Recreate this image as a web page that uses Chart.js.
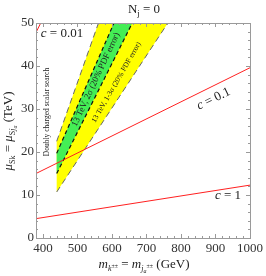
<!DOCTYPE html>
<html lang="en">
<head>
  <meta charset="UTF-8" />
  <title>Nj = 0 exclusion plot</title>
  <script src="https://cdn.jsdelivr.net/npm/chart.js"></script>
  <style>
    html, body {
      margin: 0;
      padding: 0;
      background: #fff;
    }
  </style>
</head>
<body>
  <canvas id="chart" width="266" height="276"></canvas>

  <script>
    const xTicks = [400, 500, 600, 700, 800, 900, 1000];
    const yTicks = [0, 10, 20, 30, 40, 50];

    // doubly charged scalar search: masses below 440 GeV excluded
    const searchBand = [{x: 380, y: 50}, {x: 440, y: 50}];

    // 13 TeV, 1-3 sigma band edges
    const outerLeft = [{x: 440, y: 22.5}, {x: 561, y: 50}];
    const outerRight = [{x: 440, y: 10.7}, {x: 762, y: 50}];
    // 13 TeV, 2 sigma band edges
    const innerLeft = [{x: 440, y: 19.7}, {x: 606, y: 50}];
    const innerRight = [{x: 440, y: 15.0}, {x: 659, y: 50}];

    // coupling contours
    const cOne = [{x: 380, y: 4.5}, {x: 1000, y: 12.3}];
    const cTenth = [{x: 380, y: 15.0}, {x: 1000, y: 39.6}];
    const cHundredth = [{x: 380, y: 47.8}, {x: 400, y: 51}];

    const SERIF = "'Liberation Serif', 'DejaVu Serif', serif";

    // closed polygon between two edges
    const band = (left, right) => [...left, ...right.slice().reverse(), left[0]];

    const line = (data, color, width, dash, order) => ({
      data, showLine: true, pointRadius: 0, borderColor: color,
      borderWidth: width, borderDash: dash, fill: false, order
    });

    const area = (data, color, order) => ({
      data, showLine: true, pointRadius: 0, borderWidth: 0,
      borderColor: color, backgroundColor: color, fill: 'shape', order
    });

    // draw text made of pieces with sub/superscripts
    function rich(ctx, parts, x, y) {
      let w = 0;
      parts.forEach(p => { ctx.font = p.f; p.w = ctx.measureText(p.t).width; w += p.w; });
      let cx = x - w / 2;
      parts.forEach(p => { ctx.font = p.f; ctx.fillText(p.t, cx, y + (p.dy || 0)); cx += p.w; });
    }

    const frame = {
      id: 'frame',
      afterDatasetsDraw(chart) {
        const {ctx, chartArea: a, scales: {x, y}} = chart;
        ctx.save();
        ctx.strokeStyle = '#9a9a9a';
        ctx.lineWidth = 1;
        ctx.beginPath();
        for (let v = 380; v <= 1000; v += 20) {
          const px = Math.round(x.getPixelForValue(v)) + 0.5;
          const len = v % 100 === 0 ? 4 : 2;
          ctx.moveTo(px, a.bottom); ctx.lineTo(px, a.bottom - len);
          ctx.moveTo(px, a.top); ctx.lineTo(px, a.top + len);
        }
        for (let v = 0; v <= 50; v += 2) {
          const py = Math.round(y.getPixelForValue(v)) + 0.5;
          const len = v % 10 === 0 ? 4 : 2;
          ctx.moveTo(a.left, py); ctx.lineTo(a.left + len, py);
          ctx.moveTo(a.right, py); ctx.lineTo(a.right - len, py);
        }
        ctx.stroke();
        ctx.strokeRect(Math.round(a.left) + 0.5, Math.round(a.top) + 0.5,
          Math.round(a.right - a.left), Math.round(a.bottom - a.top));
        ctx.restore();
      }
    };

    const labels = {
      id: 'labels',
      afterDraw(chart) {
        const {ctx} = chart;
        ctx.save();
        ctx.fillStyle = '#222';
        ctx.textBaseline = 'alphabetic';

        // title
        rich(ctx, [
          {t: 'N', f: `13px ${SERIF}`},
          {t: 'j', f: `9px ${SERIF}`, dy: 3},
          {t: ' = 0', f: `13px ${SERIF}`}
        ], 144, 13);

        // x axis title
        rich(ctx, [
          {t: 'm', f: `italic 13px ${SERIF}`},
          {t: 'k', f: `italic 8px ${SERIF}`, dy: 3},
          {t: '±±', f: `6px ${SERIF}`, dy: 0},
          {t: ' = ', f: `13px ${SERIF}`},
          {t: 'm', f: `italic 13px ${SERIF}`},
          {t: 'j', f: `italic 8px ${SERIF}`, dy: 3},
          {t: 'a', f: `italic 6px ${SERIF}`, dy: 5},
          {t: '±±', f: `6px ${SERIF}`, dy: 0},
          {t: ' (GeV)', f: `13px ${SERIF}`}
        ], 144, 268);

        // y axis title
        ctx.save();
        ctx.translate(12, 131);
        ctx.rotate(-Math.PI / 2);
        rich(ctx, [
          {t: 'μ', f: `italic 13px ${SERIF}`},
          {t: 'Sk', f: `8px ${SERIF}`, dy: 3},
          {t: ' = ', f: `13px ${SERIF}`},
          {t: 'μ', f: `italic 13px ${SERIF}`},
          {t: 'S', f: `8px ${SERIF}`, dy: 3},
          {t: 'j', f: `italic 8px ${SERIF}`, dy: 3},
          {t: 'a', f: `italic 6px ${SERIF}`, dy: 5},
          {t: ' (TeV)', f: `13px ${SERIF}`}
        ], 0, 0);
        ctx.restore();

        // contour labels
        rich(ctx, [
          {t: 'c', f: `italic 13px ${SERIF}`},
          {t: ' = 0.01', f: `13px ${SERIF}`}
        ], 62, 37);

        ctx.save();
        ctx.translate(215, 102);
        ctx.rotate(-26 * Math.PI / 180);
        rich(ctx, [
          {t: 'c', f: `italic 13px ${SERIF}`},
          {t: ' = 0.1', f: `13px ${SERIF}`}
        ], 0, 0);
        ctx.restore();

        rich(ctx, [
          {t: 'c', f: `italic 13px ${SERIF}`},
          {t: ' = 1', f: `13px ${SERIF}`}
        ], 228, 199);

        // band and search labels
        ctx.save();
        ctx.translate(49, 112);
        ctx.rotate(-Math.PI / 2);
        rich(ctx, [{t: 'Doubly charged scalar search', f: `7.5px ${SERIF}`}], 0, 0);
        ctx.restore();

        ctx.save();
        ctx.translate(94, 82);
        ctx.rotate(-65 * Math.PI / 180);
        rich(ctx, [{t: '13 TeV, 2σ (20% PDF error)', f: `9px ${SERIF}`}], 3, 3);
        ctx.restore();

        ctx.save();
        ctx.translate(116, 82);
        ctx.rotate(-60 * Math.PI / 180);
        rich(ctx, [{t: '13 TeV, 1-3σ (20% PDF error)', f: `7.5px ${SERIF}`}], 0, 2.5);
        ctx.restore();

        ctx.restore();
      }
    };

    new Chart(document.getElementById('chart'), {
      type: 'scatter',
      data: {
        datasets: [
          area(searchBand, '#d8d8d8', 10),
          area(band(outerLeft, outerRight), '#ffff00', 9),
          area(band(innerLeft, innerRight), '#44ee55', 8),
          line(outerLeft, '#666666', 1, [6, 4], 5),
          line(outerRight, '#666666', 1, [6, 4], 5),
          line(innerLeft, '#111111', 1.2, [4, 3], 4),
          line(innerRight, '#111111', 1.2, [4, 3], 4),
          line(cOne, '#ff2020', 1, [], 1),
          line(cTenth, '#ff2020', 1, [], 1),
          line(cHundredth, '#ff2020', 1, [], 1)
        ]
      },
      options: {
        responsive: false,
        animation: false,
        devicePixelRatio: 1,
        layout: { padding: { top: 23, right: 14, left: 0, bottom: 0 } },
        plugins: { legend: { display: false }, tooltip: { enabled: false } },
        scales: {
          x: {
            type: 'linear', min: 380, max: 1000,
            grid: { display: false, drawTicks: false },
            border: { display: false },
            ticks: {
              font: { family: SERIF, size: 13 }, color: '#333', padding: 3, maxRotation: 0,
              callback: v => String(v)
            },
            afterBuildTicks: s => { s.ticks = xTicks.map(v => ({value: v})); },
            afterFit: s => { s.height = 38; }
          },
          y: {
            type: 'linear', min: 0, max: 50,
            grid: { display: false, drawTicks: false },
            border: { display: false },
            ticks: {
              font: { family: SERIF, size: 13 }, color: '#333', padding: 2,
              callback: v => String(v)
            },
            afterBuildTicks: s => { s.ticks = yTicks.map(v => ({value: v})); },
            afterFit: s => { s.width = 36; }
          }
        }
      },
      plugins: [frame, labels]
    });
  </script>
</body>
</html>
